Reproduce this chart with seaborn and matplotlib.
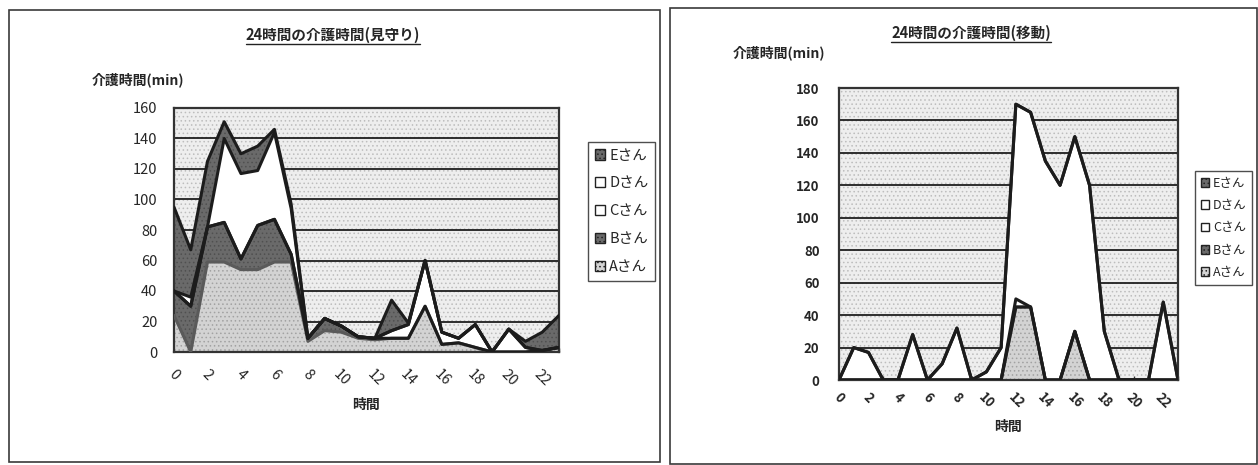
import numpy as np
import pandas as pd
import matplotlib
matplotlib.use("Agg")
import matplotlib.pyplot as plt
from matplotlib.patches import Rectangle, Patch
from matplotlib.lines import Line2D
import seaborn as sns

# ---- data -------------------------------------------------------------
hours = list(range(24))
hour_ticks = list(range(0, 24, 2))
people = ["Aさん", "Bさん", "Cさん", "Dさん", "Eさん"]

# 見守り (minutes per hour, per person)
watch_a = [24, 0, 59, 59, 54, 54, 59, 59, 7, 14, 13, 9, 8, 9, 9, 30, 5, 6, 3, 0, 0, 0, 1, 3]
watch_b = [16, 30, 23, 26, 7, 29, 28, 5, 2, 8, 4, 1, 1, 0, 0, 0, 0, 0, 0, 0, 0, 0, 0, 0]
watch_c = [0, 0, 0, 0, 0, 0, 0, 0, 0, 0, 0, 0, 0, 5, 9, 30, 8, 3, 15, 0, 15, 3, 0, 0]
watch_d = [0, 6, 0, 55, 56, 36, 57, 30, 0, 0, 0, 0, 0, 0, 0, 0, 0, 0, 0, 0, 0, 0, 0, 0]
watch_e = [55, 31, 43, 11, 13, 16, 2, 3, 0, 0, 0, 0, 0, 20, 1, 0, 0, 0, 0, 0, 0, 4, 12, 21]

# 移動 (minutes per hour, per person)
move_a = [0, 0, 0, 0, 0, 0, 0, 0, 0, 0, 0, 0, 45, 45, 0, 0, 30, 0, 0, 0, 0, 0, 0, 0]
move_b = [0] * 24
move_c = [0, 0, 0, 0, 0, 0, 0, 0, 0, 0, 0, 0, 5, 0, 0, 0, 0, 0, 0, 0, 0, 0, 0, 0]
move_d = [0, 20, 17, 0, 0, 28, 0, 10, 32, 0, 5, 20, 120, 120, 135, 120, 120, 120, 30, 0, 0, 0, 48, 0]
move_e = [0] * 24

watch_title = "24時間の介護時間(見守り)"
move_title = "24時間の介護時間(移動)"
y_label = "介護時間(min)"
x_label = "時間"

# ---- style ------------------------------------------------------------
W, H = 1258, 465
sns.set_theme(style="white")
plt.rcParams["font.family"] = ["Noto Sans CJK JP", "DejaVu Sans"]
plt.rcParams["hatch.linewidth"] = 0.6

fill_color = {"Aさん": "#d3d3d3", "Bさん": "#6a6a6a", "Cさん": "#ffffff",
              "Dさん": "#ffffff", "Eさん": "#6a6a6a"}
hatch_color = {"Aさん": "#a2a2a2", "Bさん": "#505050", "Cさん": "#ffffff",
               "Dさん": "#ffffff", "Eさん": "#505050"}
hatch_kind = {"Aさん": "....", "Bさん": "....", "Cさん": None,
              "Dさん": None, "Eさん": "...."}
line_color = {"Aさん": "#5a5a5a", "Bさん": "#1c1c1c", "Cさん": "#1c1c1c",
              "Dさん": "#1c1c1c", "Eさん": "#1c1c1c"}

fig = plt.figure(figsize=(W / 100, H / 100), dpi=100)


def px_axes(x0, y0, x1, y1):
    return fig.add_axes([x0 / W, 1 - y1 / H, (x1 - x0) / W, (y1 - y0) / H])


def frame(x0, y0, x1, y1):
    fig.patches.append(Rectangle((x0 / W, 1 - y1 / H), (x1 - x0) / W, (y1 - y0) / H,
                                 transform=fig.transFigure, facecolor="none",
                                 edgecolor="#3a3a3a", lw=1.2, zorder=0))


def draw_stack(ax, series, ymax, edge_lw, fs, weight, ypad, xpad):
    ax.set_facecolor("#eeeeee")
    ax.add_patch(Rectangle((0, 0), 1, 1, transform=ax.transAxes, facecolor="none",
                           edgecolor="#bdbdbd", hatch="....", lw=0, zorder=0.1))
    ax.set_xlim(0, 23)
    ax.set_ylim(0, ymax)
    ax.set_yticks(range(0, ymax + 1, 20))
    ax.set_xticks(hour_ticks)
    ax.set_xticks(hours, minor=True)
    ax.yaxis.grid(True, color="#1e1e1e", lw=1.3)
    ax.set_axisbelow(True)

    base = np.zeros(len(hours))
    rows = []
    for name in people:
        top = base + np.asarray(series[name], float)
        ax.fill_between(hours, base, top, facecolor=fill_color[name],
                        edgecolor=hatch_color[name], hatch=hatch_kind[name],
                        lw=0, zorder=2)
        rows += [{"hour": h, "top": t, "person": name} for h, t in zip(hours, top)]
        base = top
    df = pd.DataFrame(rows)
    sns.lineplot(data=df, x="hour", y="top", hue="person", palette=line_color,
                 estimator=None, sort=False, lw=edge_lw, legend=False, ax=ax, zorder=3)

    ax.set_xlabel("")
    ax.set_ylabel("")
    for s in ax.spines.values():
        s.set_color("#333333")
        s.set_linewidth(1.6)
        s.set_visible(True)
    ax.tick_params(axis="y", which="both", left=False, pad=ypad, labelsize=fs)
    ax.tick_params(axis="x", which="both", bottom=True, direction="in",
                   length=3, width=1, color="#333333", pad=xpad, labelsize=fs)
    for lab in ax.get_yticklabels():
        lab.set_fontweight(weight)
    for lab in ax.get_xticklabels():
        lab.set_rotation(-45)
        lab.set_ha("center")
        lab.set_va("top")
        lab.set_fontweight(weight)


def add_legend(x0, y0, fs, spacing):
    handles = [Patch(facecolor=fill_color[p], edgecolor="#222222",
                     hatch=hatch_kind[p], lw=1.0) for p in people[::-1]]
    leg = fig.legend(handles, people[::-1], loc="upper left",
                     bbox_to_anchor=(x0 / W, 1 - y0 / H), borderaxespad=0,
                     frameon=True, fancybox=False, shadow=False, fontsize=fs,
                     labelspacing=spacing, handlelength=0.7, handleheight=0.7,
                     handletextpad=0.3, borderpad=0.45)
    leg.get_frame().set_edgecolor("#222222")
    leg.get_frame().set_linewidth(1.0)
    return leg


# ---- left panel: 見守り ----------------------------------------------
frame(9, 10, 660, 462)
ax1 = px_axes(174, 108, 559, 352)
draw_stack(ax1, {"Aさん": watch_a, "Bさん": watch_b, "Cさん": watch_c,
                 "Dさん": watch_d, "Eさん": watch_e},
           160, 2.2, 10.5, "normal", 6, 11)
t1 = fig.text(333 / W, 1 - 35 / H, watch_title, ha="center", va="center",
              fontsize=10.5, fontweight="bold")
fig.text(92 / W, 1 - 80 / H, y_label, ha="left", va="center",
         fontsize=10, fontweight="bold")
fig.text(366 / W, 1 - 405 / H, x_label, ha="center", va="center",
         fontsize=10, fontweight="bold")
add_legend(588, 142, 10.5, 0.95)

# ---- right panel: 移動 ------------------------------------------------
frame(670, 8, 1257, 464)
ax2 = px_axes(839, 88, 1178, 380)
draw_stack(ax2, {"Aさん": move_a, "Bさん": move_b, "Cさん": move_c,
                 "Dさん": move_d, "Eさん": move_e},
           180, 2.2, 9.5, "bold", 8, 7)
t2 = fig.text(971 / W, 1 - 33 / H, move_title, ha="center", va="center",
              fontsize=10.5, fontweight="bold")
fig.text(733 / W, 1 - 53 / H, y_label, ha="left", va="center",
         fontsize=10, fontweight="bold")
fig.text(1008 / W, 1 - 427 / H, x_label, ha="center", va="center",
         fontsize=10, fontweight="bold")
add_legend(1195, 171, 9, 0.75)

# underline both titles
fig.canvas.draw()
for t in (t1, t2):
    bb = t.get_window_extent()
    y = (bb.y0 - 1) / H
    fig.lines.append(Line2D([bb.x0 / W, bb.x1 / W], [y, y], transform=fig.transFigure,
                            color="#222222", lw=1.0))

fig.savefig("out.png", dpi=100)
